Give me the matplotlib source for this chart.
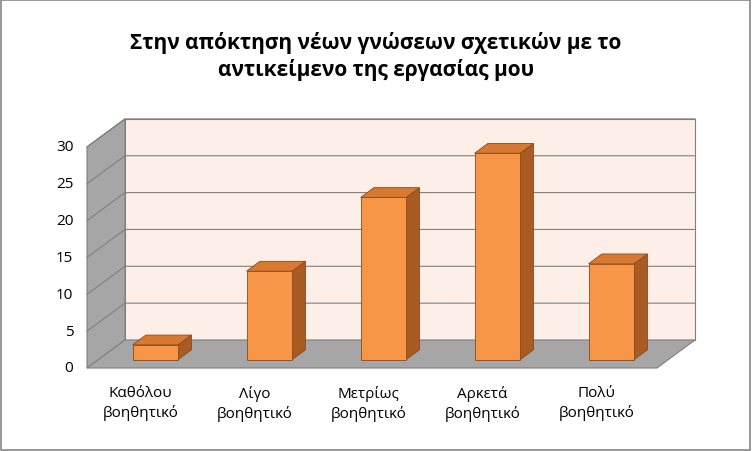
import matplotlib
matplotlib.use("Agg")
import matplotlib.pyplot as plt
from matplotlib.patches import Polygon

plt.rcParams["font.family"] = "Open Sans"

# datos
categorias = ["Καθόλου\nβοηθητικό", "Λίγο\nβοηθητικό", "Μετρίως\nβοηθητικό",
              "Αρκετά\nβοηθητικό", "Πολύ\nβοηθητικό"]
valores = [2, 12, 22, 28, 13]
ticks_y = [0, 5, 10, 15, 20, 25, 30]
titulo = "Στην απόκτηση νέων γνώσεων σχετικών με το\nαντικείμενο της εργασίας μου"

fig = plt.figure(figsize=(7.52, 4.52), dpi=100)
ax = fig.add_axes([0, 0, 1, 1])
ax.set_xlim(-87 / 114, (752 - 87) / 114)
ax.set_ylim((369 - 452) / 7.37, 369 / 7.37)
ax.axis("off")

# desplazamiento de profundidad (3D falso)
DX, DY = 38 / 114, 28 / 7.37
n = len(categorias)
ymax = 30

def shift(x, y, d):
    return (x + DX * d, y + DY * d)

# pared trasera, pared izquierda y suelo
ax.add_patch(Polygon([shift(0, 0, 1), shift(n, 0, 1), shift(n, ymax, 1), shift(0, ymax, 1)],
                     closed=True, facecolor="#fdefe8", edgecolor="#7f7f7f", lw=0.8, zorder=1))
ax.add_patch(Polygon([(0, 0), shift(0, 0, 1), shift(0, ymax, 1), (0, ymax)],
                     closed=True, facecolor="#a6a6a6", edgecolor="#7f7f7f", lw=0.8, zorder=1))
ax.add_patch(Polygon([(0, 0), (n, 0), shift(n, 0, 1), shift(0, 0, 1)],
                     closed=True, facecolor="#a6a6a6", edgecolor="#7f7f7f", lw=0.8, zorder=1))

# rejilla
for t in ticks_y[1:]:
    ax.plot([0, DX, n + DX], [t, t + DY, t + DY], color="#7f7f7f", lw=0.8, zorder=2)
    
for t in ticks_y:
    ax.text(-0.12, t, str(t), ha="right", va="center", fontsize=11)

# barras
d0, d1 = 0.3, 0.65
w = 0.4
for i, v in enumerate(valores):
    x0 = i + 0.5 - w / 2 + 0.0
    x1 = x0 + w
    ec = "#8a4a1a"
    front = [shift(x0, 0, d0), shift(x1, 0, d0), shift(x1, v, d0), shift(x0, v, d0)]
    side = [shift(x1, 0, d0), shift(x1, 0, d1), shift(x1, v, d1), shift(x1, v, d0)]
    top = [shift(x0, v, d0), shift(x1, v, d0), shift(x1, v, d1), shift(x0, v, d1)]
    ax.add_patch(Polygon(side, closed=True, facecolor="#a85c24", edgecolor=ec, lw=0.6, zorder=3))
    ax.add_patch(Polygon(top, closed=True, facecolor="#d9782f", edgecolor=ec, lw=0.6, zorder=3))
    ax.add_patch(Polygon(front, closed=True, facecolor="#f79646", edgecolor=ec, lw=0.6, zorder=4))

# etiquetas de categorías
for i, c in enumerate(categorias):
    ax.text(i + 0.47, -2.3, c, ha="center", va="top", fontsize=11, linespacing=1.3)

fig.text(0.5, 0.875, titulo, ha="center", va="center", fontsize=15, fontweight="bold",
         linespacing=1.35)

# borde exterior
fig.add_artist(plt.Rectangle((0.001, 0.002), 0.997, 0.995, transform=fig.transFigure,
                             fill=False, edgecolor="#868686", lw=1.2))

fig.savefig("out.png", dpi=100)
